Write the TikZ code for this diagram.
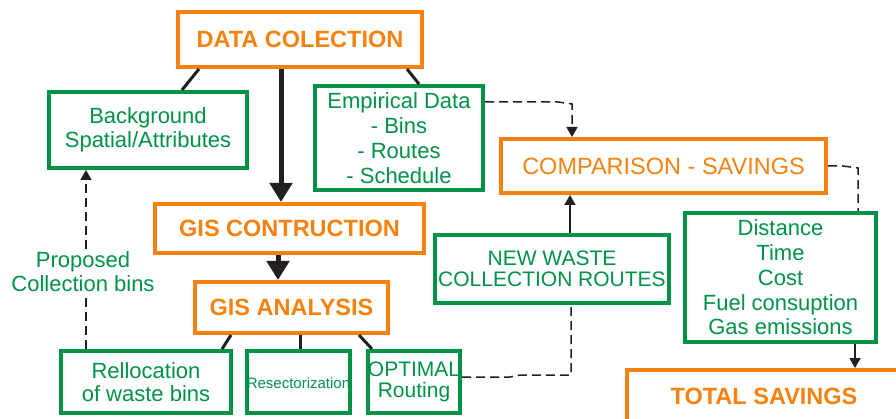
\documentclass[tikz,border=0pt]{standalone}
\usepackage{fontspec}
\setmainfont{Liberation Sans}
\usetikzlibrary{arrows.meta,calc}
\definecolor{org}{RGB}{245,130,15}
\definecolor{grn}{RGB}{0,146,72}
\definecolor{ink}{RGB}{35,31,32}
\begin{document}
\begin{tikzpicture}[x=1pt,y=-1pt,
  obox/.style={draw=org,line width=4.2pt,inner sep=0pt,outer sep=2pt,text=org,align=center},
  gbox/.style={draw=grn,line width=4.4pt,inner sep=0pt,outer sep=2pt,text=grn,align=center},
  bigtxt/.style={font=\fontsize{23.5}{28}\selectfont\bfseries},
  regtxt/.style={font=\fontsize{23.5}{28}\selectfont},
  gtxt/.style={text=grn,align=center,inner sep=0pt},
  conn/.style={draw=ink,line width=3pt},
  thick arrow/.style={draw=ink,line width=5pt,-{Triangle[length=19pt,width=22pt]}},
  thin arrow/.style={draw=ink,line width=1.8pt,-{Triangle[length=10pt,width=11pt]}},
  dsh/.style={draw=ink,line width=1.5pt,dash pattern=on 9pt off 5pt},
]
\clip (0,0) rectangle (896,419);
\fill[white] (0,0) rectangle (896,419);

% boxes
\node[obox,bigtxt,minimum width=244pt,minimum height=55pt] (data) at (300,39.5) {DATA COLECTION};
\node[gbox,font=\fontsize{22}{24}\selectfont,minimum width=198pt,minimum height=76pt] (bg) at (148,130) {Background\\Spatial/Attributes};
\node[gbox,font=\fontsize{22}{25}\selectfont,minimum width=168pt,minimum height=104pt] (emp) at (399,138) {Empirical Data\\- Bins\\- Routes\\- Schedule};
\node[obox,regtxt,minimum width=325pt,minimum height=54pt] (comp) at (663.5,166) {COMPARISON - SAVINGS};
\node[obox,bigtxt,minimum width=269pt,minimum height=49pt] (gisc) at (289.5,228.5) {GIS CONTRUCTION};
\node[obox,bigtxt,minimum width=193pt,minimum height=51pt] (gisa) at (291.5,307.5) {GIS ANALYSIS};
\node[gbox,font=\fontsize{22}{23.5}\selectfont,minimum width=170pt,minimum height=62pt] (rel) at (146,382) {Rellocation\\of waste bins};
\node[gtxt,font=\fontsize{15}{17}\selectfont] (restxt) at (298.5,383) {Resectorization};
\node[gbox,minimum width=103pt,minimum height=62pt] (res) at (298.5,382) {};
\node[gtxt,font=\fontsize{21}{21}\selectfont] (opttxt) at (414,382) {OPTIMAL\\Routing};
\node[gbox,minimum width=92pt,minimum height=62pt] (opt) at (414,382) {};
\node[gbox,font=\fontsize{21}{20.5}\selectfont,minimum width=234pt,minimum height=68pt] (neww) at (552,269) {NEW WASTE\\COLLECTION ROUTES};
\node[gbox,font=\fontsize{22}{24.7}\selectfont,minimum width=191pt,minimum height=129pt] (dist) at (780.5,277.5) {Distance\\Time\\Cost\\Fuel consuption\\Gas emissions};
\node[obox,bigtxt,minimum width=274pt,minimum height=52pt] (tot) at (764,396) {TOTAL SAVINGS};

% label
\node[gtxt,inner sep=3pt,font=\fontsize{22}{24}\selectfont] (lbl) at (83,272) {Proposed\\Collection bins};

% solid connectors
\draw[conn] ([xshift=23pt]data.south west) -- ([xshift=135pt]bg.north west);
\draw[conn] ([xshift=-17pt]data.south east) -- ([xshift=106pt]emp.north west);
\draw[conn] ([xshift=38pt]gisa.south west) -- ([xshift=163pt]rel.north west);
\draw[conn] ([xshift=107pt]gisa.south west) -- ([xshift=55pt]res.north west);
\draw[conn] ([xshift=166pt]gisa.south west) -- ([xshift=6pt]opt.north west);

% thick arrows
\draw[thick arrow] ([xshift=105pt]data.south west) -- ([xshift=128pt]gisc.north west);
\draw[thick arrow] ([xshift=125pt]gisc.south west) -- ([xshift=85pt]gisa.north west);

% thin arrows
\draw[thin arrow] ([xshift=137pt]neww.north west) -- ([xshift=71pt]comp.south west);
\draw[thin arrow] ([xshift=172pt]dist.south west) -- ([xshift=230pt]tot.north west);

% dashed connectors
\draw[dsh,-{Triangle[length=10pt,width=11pt]}] ([yshift=-18pt]emp.north east) -- ++(73,0) -- ++(14,2) -- ([xshift=73pt]comp.north west);
\draw[dsh] (comp.east) -- ++(15,0) -- ++(15,2) -- ([xshift=175pt]dist.north west);
\draw[dsh] ([yshift=5pt]opt.east) -- ++(48,0) -- ++(10,-2) -| ([xshift=138pt]neww.south west);
\coordinate (r1) at ([xshift=27pt]rel.north west);
\coordinate (b1) at ([xshift=39pt]bg.south west);
\draw[dsh] (r1) -- (r1 |- lbl.south);
\draw[dsh,-{Triangle[length=10pt,width=11pt]}] (b1 |- lbl.north) -- (b1);
\end{tikzpicture}
\end{document}
